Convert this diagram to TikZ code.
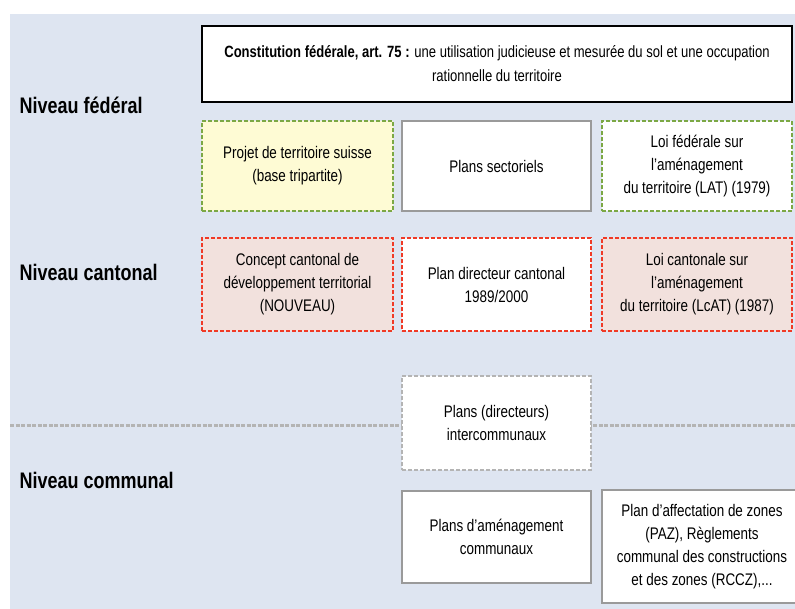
\documentclass[tikz,border=0pt]{standalone}
\usepackage{fontspec}
\setmainfont[FakeStretch=0.8]{Liberation Sans}
\definecolor{bgblue}{HTML}{DEE5F1}
\definecolor{fedfill}{HTML}{FEFBD4}
\definecolor{cantfill}{HTML}{F2E1DD}
\definecolor{fedline}{HTML}{7CA845}
\definecolor{cantline}{HTML}{F03A26}
\definecolor{boxgrey}{HTML}{9A9A9A}
\definecolor{sepgrey}{HTML}{B4B4B4}
\tikzset{
  level/.style={anchor=west, font=\fontsize{22.5}{26}\selectfont\bfseries},
  box/.style={draw=boxgrey, fill=white, line width=1.2pt, align=center, inner sep=2pt,
    font=\fontsize{16.8}{23}\selectfont},
  fedbox/.style={box, draw=fedline, dash pattern=on 4pt off 2pt},
  cantbox/.style={box, draw=cantline, dash pattern=on 4pt off 2pt},
  interbox/.style={box, draw=sepgrey, dash pattern=on 4pt off 2pt},
  divider/.style={draw=sepgrey, line width=3pt, dash pattern=on 4pt off 1.5pt}
}
\begin{document}
\begin{tikzpicture}[x=1pt,y=-1pt]
  \useasboundingbox (0,0) rectangle (795,609);
  \clip (0,0) rectangle (795,609);
  \fill[bgblue] (10,14) rectangle (795,609);

  \coordinate (sepL) at (10,425);
  \coordinate (sepR) at (795,425);
  \draw[divider] (sepL) -- (sepR);

  % niveaux
  \node[level] (fed) at (16,105) {Niveau fédéral};
  \node[level] (cant) at (16,272) {Niveau cantonal};
  \node[level] (comm) at (16,480) {Niveau communal};

  % federal
  \node[box, draw=black, line width=1.6pt, minimum width=590, minimum height=76,
    font=\fontsize{16.3}{24}\selectfont]
    (const) at (497,64) {\textbf{Constitution fédérale, art. 75 :} une utilisation judicieuse et mesurée du sol et une occupation\\rationnelle du territoire};
  \node[fedbox, fill=fedfill, minimum width=191, minimum height=90] (proj) at (297.5,166)
    {Projet de territoire suisse\\(base tripartite)};
  \node[box, minimum width=189, minimum height=90] (sect) at (496.5,166) {Plans sectoriels};
  \node[fedbox, minimum width=190, minimum height=90] (lat) at (697,166)
    {Loi fédérale sur\\l’aménagement\\du territoire (LAT) (1979)};

  % cantonal
  \node[cantbox, fill=cantfill, minimum width=191, minimum height=93] (cct) at (297.5,284.5)
    {Concept cantonal de\\développement territorial\\(NOUVEAU)};
  \node[cantbox, minimum width=189, minimum height=93] (pdc) at (496.5,284.5)
    {Plan directeur cantonal\\1989/2000};
  \node[cantbox, fill=cantfill, minimum width=190, minimum height=93] (lcat) at (697,284.5)
    {Loi cantonale sur\\l’aménagement\\du territoire (LcAT) (1987)};

  % communal
  \node[interbox, minimum width=189, minimum height=94] (pic) at (496.5,423)
    {Plans (directeurs)\\intercommunaux};
  \node[box, minimum width=189, minimum height=92] (pac) at (496.5,537)
    {Plans d’aménagement\\communaux};
  \node[box, minimum width=200, minimum height=113] (paz) at (702,546.5)
    {Plan d’affectation de zones\\(PAZ), Règlements\\communal des constructions\\et des zones (RCCZ),...};
\end{tikzpicture}
\end{document}
